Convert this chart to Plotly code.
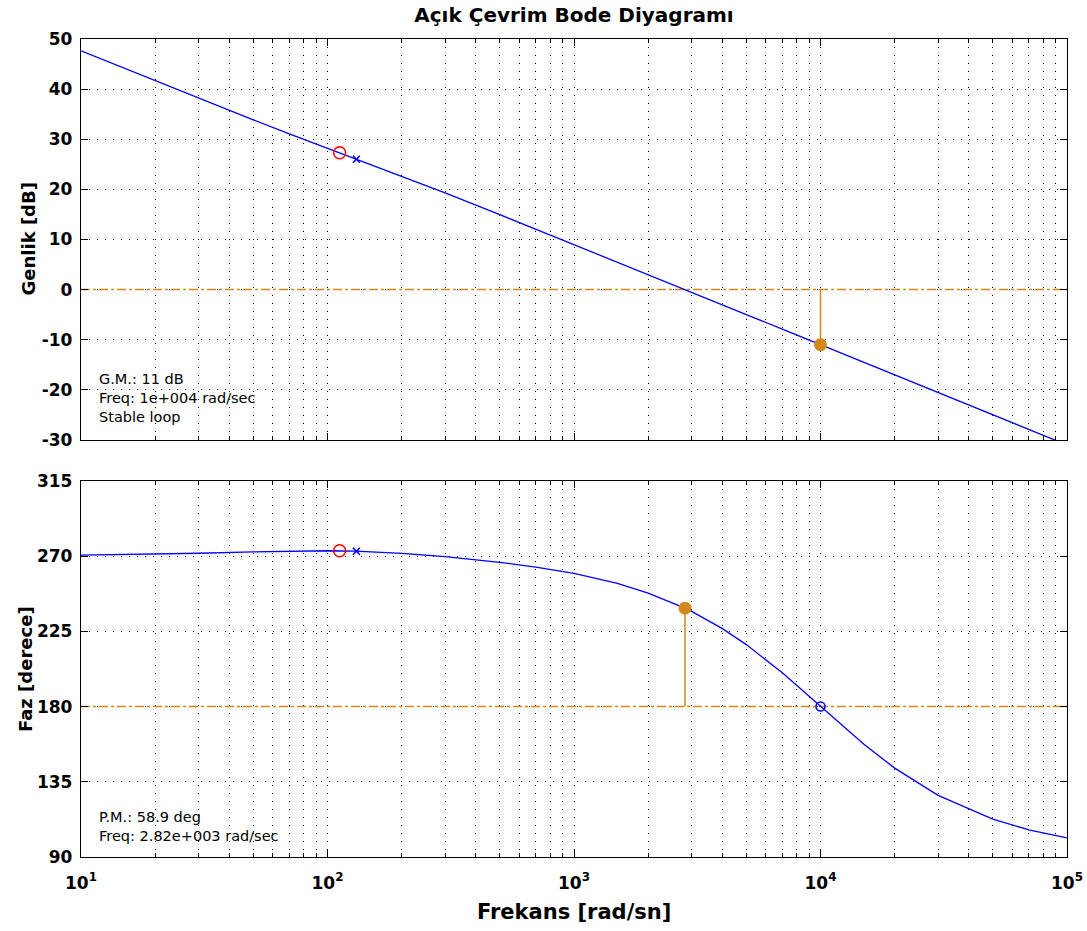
import plotly.graph_objects as go

# ---- data ----
freq = [10, 20, 30, 50, 70, 100, 130, 200, 300, 500, 700, 1000, 1500, 2000,
        2820, 3000, 4000, 5000, 7000, 10000, 15000, 20000, 30000, 50000, 70000, 100000]
mag_db = [47.66, 41.66, 38.19, 33.87, 31.09, 28.20, 26.10, 22.62, 19.28, 14.96, 12.07,
          8.99, 5.48, 2.99, 0.0, -0.54, -3.03, -4.97, -7.89, -10.99, -14.51, -17.01,
          -20.54, -24.97, -27.89, -30.99]
phase_deg = [270.62, 271.21, 271.76, 272.60, 273.08, 273.25, 272.98, 271.68, 269.67,
             266.33, 263.50, 259.65, 253.66, 247.92, 238.89, 236.96, 226.67, 217.09,
             200.18, 180.11, 157.45, 143.18, 126.91, 112.64, 106.27, 101.43]

zero_freq = [112]
zero_mag = [27.3]
zero_phase = [273.2]
pole_freq = [131]
pole_mag = [26.0]
pole_phase = [273.0]
rhp_freq = [10000]
rhp_phase = [180.1]

gm_freq = [10000]
gm_mag = [-11.0]
pm_freq = [2820]
pm_phase = [238.9]
ref_db = [0, 0]
ref_deg = [180, 180]
ref_freq = [10, 100000]

mag_ticks = [-30, -20, -10, 0, 10, 20, 30, 40, 50]
mag_labels = ["-30", "-20", "-10", "0", "10", "20", "30", "40", "50"]
phase_ticks = [90, 135, 180, 225, 270, 315]
phase_labels = ["90", "135", "180", "225", "270", "315"]
x_major = [10, 100, 1000, 10000, 100000]
x_labels = ["10<sup>1</sup>", "10<sup>2</sup>", "10<sup>3</sup>", "10<sup>4</sup>", "10<sup>5</sup>"]
x_minor = [k * d for d in x_major[:-1] for k in range(2, 10)]

BLUE = "#0000FF"
ORANGE = "#D08A1C"
RED = "#FF0000"
FONT = "DejaVu Sans"

fig = go.Figure()

# magnitude
fig.add_trace(go.Scatter(x=ref_freq, y=ref_db, mode="lines",
                         line=dict(color=ORANGE, width=1.5, dash="dashdot"),
                         xaxis="x", yaxis="y", hoverinfo="skip"))
fig.add_trace(go.Scatter(x=freq, y=mag_db, mode="lines",
                         line=dict(color=BLUE, width=1.3), xaxis="x", yaxis="y"))
fig.add_trace(go.Scatter(x=gm_freq * 2, y=[ref_db[0], gm_mag[0]], mode="lines",
                         line=dict(color=ORANGE, width=1.5), xaxis="x", yaxis="y"))
fig.add_trace(go.Scatter(x=gm_freq, y=gm_mag, mode="markers",
                         marker=dict(color=ORANGE, size=13), xaxis="x", yaxis="y"))
fig.add_trace(go.Scatter(x=zero_freq, y=zero_mag, mode="markers",
                         marker=dict(symbol="circle-open", color=RED, size=12, line=dict(width=1.5)),
                         xaxis="x", yaxis="y"))
fig.add_trace(go.Scatter(x=pole_freq, y=pole_mag, mode="markers",
                         marker=dict(symbol="x-thin-open", color=BLUE, size=7, line=dict(width=1.5, color=BLUE)),
                         xaxis="x", yaxis="y"))

# phase
fig.add_trace(go.Scatter(x=ref_freq, y=ref_deg, mode="lines",
                         line=dict(color=ORANGE, width=1.5, dash="dashdot"),
                         xaxis="x2", yaxis="y2"))
fig.add_trace(go.Scatter(x=freq, y=phase_deg, mode="lines",
                         line=dict(color=BLUE, width=1.3), xaxis="x2", yaxis="y2"))
fig.add_trace(go.Scatter(x=pm_freq * 2, y=[ref_deg[0], pm_phase[0]], mode="lines",
                         line=dict(color=ORANGE, width=1.5), xaxis="x2", yaxis="y2"))
fig.add_trace(go.Scatter(x=pm_freq, y=pm_phase, mode="markers",
                         marker=dict(color=ORANGE, size=13), xaxis="x2", yaxis="y2"))
fig.add_trace(go.Scatter(x=zero_freq, y=zero_phase, mode="markers",
                         marker=dict(symbol="circle-open", color=RED, size=12, line=dict(width=1.5)),
                         xaxis="x2", yaxis="y2"))
fig.add_trace(go.Scatter(x=pole_freq, y=pole_phase, mode="markers",
                         marker=dict(symbol="x-thin-open", color=BLUE, size=7, line=dict(width=1.5, color=BLUE)),
                         xaxis="x2", yaxis="y2"))
fig.add_trace(go.Scatter(x=rhp_freq, y=rhp_phase, mode="markers",
                         marker=dict(symbol="circle-open", color=BLUE, size=9, line=dict(width=1.5)),
                         xaxis="x2", yaxis="y2"))

grid = dict(showgrid=True, gridcolor="#000000", gridwidth=1, griddash="1px,7px")
axis_common = dict(showline=True, linecolor="#000000", linewidth=1.3, mirror="allticks",
                   ticks="inside", ticklen=7, tickcolor="#000000", tickwidth=1.3,
                   zeroline=False, automargin=False, **grid)
minor = dict(tickvals=x_minor, ticks="inside", ticklen=4, tickcolor="#000000", tickwidth=1,
             showgrid=True, gridcolor="#000000", gridwidth=1, griddash="1px,7px")

tick_font = dict(family=FONT, size=17, color="#000000", weight="bold")

fig.update_layout(
    width=1087, height=931, autosize=False,
    margin=dict(l=81, r=20, t=39, b=74, autoexpand=False),
    paper_bgcolor="white", plot_bgcolor="white",
    showlegend=False,
    xaxis=dict(type="log", range=[1, 5], domain=[0, 1], anchor="y",
               tickvals=x_major, ticktext=[""] * 5, showticklabels=False,
               minor=minor, **axis_common),
    yaxis=dict(range=[-30, 50], domain=[0.5098, 1], anchor="x",
               tickvals=mag_ticks, ticktext=mag_labels, tickfont=tick_font,
               ticklabelstandoff=4, **axis_common),
    xaxis2=dict(type="log", range=[1, 5], domain=[0, 1], anchor="y2",
                tickvals=x_major, ticktext=x_labels, tickfont=tick_font,
                ticklabelstandoff=10, minor=minor, **axis_common),
    yaxis2=dict(range=[90, 315], domain=[0, 0.4597], anchor="x2",
                tickvals=phase_ticks, ticktext=phase_labels, tickfont=tick_font,
                ticklabelstandoff=4, **axis_common),
    title=dict(text="Açık Çevrim Bode Diyagramı", x=0.5, xref="paper", xanchor="center",
               y=1 - 15 / 931, yref="container", yanchor="middle",
               font=dict(family=FONT, size=20, color="#000000", weight="bold")),
)

ann_font = dict(family=FONT, size=14.5, color="#000000")
label_font = dict(family=FONT, size=18, color="#000000", weight="bold")
fig.add_annotation(text="G.M.: 11 dB<br>Freq: 1e+004 rad/sec<br>Stable loop",
                   xref="x domain", yref="y domain", x=0.016, y=0.105, xanchor="left",
                   yanchor="middle", align="left", showarrow=False, font=ann_font)
fig.add_annotation(text="P.M.: 58.9 deg<br>Freq: 2.82e+003 rad/sec",
                   xref="x2 domain", yref="y2 domain", x=0.016, y=0.08, xanchor="left",
                   yanchor="middle", align="left", showarrow=False, font=ann_font)
fig.add_annotation(text="Genlik [dB]", xref="paper", yref="paper", x=(28 - 81) / 986,
                   y=0.7549, textangle=-90, showarrow=False, xanchor="center", yanchor="middle",
                   font=label_font)
fig.add_annotation(text="Faz [derece]", xref="paper", yref="paper", x=(25 - 81) / 986,
                   y=0.2298, textangle=-90, showarrow=False, xanchor="center", yanchor="middle",
                   font=label_font)
fig.add_annotation(text="Frekans [rad/sn]", xref="paper", yref="paper", x=0.5,
                   y=-55 / 818, showarrow=False, xanchor="center", yanchor="middle",
                   font=dict(family=FONT, size=21, color="#000000", weight="bold"))

fig.write_html("out.html")
